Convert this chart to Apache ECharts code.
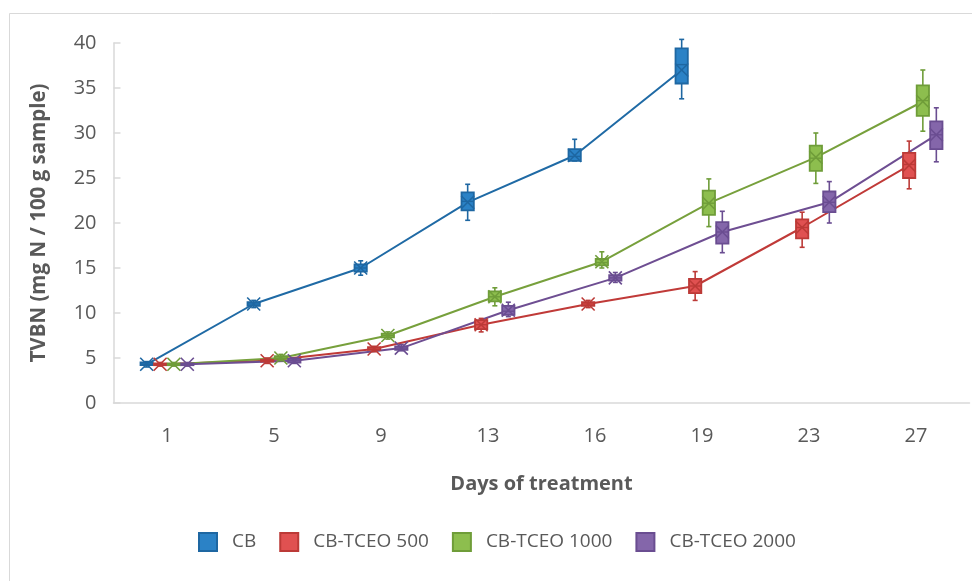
<!DOCTYPE html>
<html>
<head>
<meta charset="utf-8">
<script src="https://cdn.jsdelivr.net/npm/echarts@6/dist/echarts.min.js"></script>
<style>
  html, body { margin: 0; padding: 0; background: #ffffff; }
  #chart { width: 972px; height: 581px; }
</style>
</head>
<body>
<div id="chart"></div>
<script>
// ---- Data ----
const days = ['1', '5', '9', '13', '16', '19', '23', '27'];
const seriesNames = ['CB', 'CB-TCEO 500', 'CB-TCEO 1000', 'CB-TCEO 2000'];

// [min, Q1, median, Q3, max] per day
const cbBox = [
  [4.0, 4.2, 4.3, 4.5, 4.6],
  [10.6, 10.8, 11.0, 11.2, 11.4],
  [14.2, 14.6, 15.0, 15.4, 15.8],
  [20.3, 21.4, 22.4, 23.4, 24.3],
  [26.9, 26.9, 27.4, 28.2, 29.3],
  [33.8, 35.5, 37.6, 39.4, 40.4]
];
const cbMean = [4.3, 11.0, 15.0, 22.3, 27.5, 37.0];

const tceo500Box = [
  [4.1, 4.2, 4.3, 4.4, 4.5],
  [4.4, 4.6, 4.7, 4.8, 5.0],
  [5.7, 5.9, 6.0, 6.2, 6.3],
  [7.9, 8.2, 8.7, 9.2, 9.4],
  [10.6, 10.8, 11.0, 11.2, 11.4],
  [11.4, 12.2, 13.0, 13.8, 14.6],
  [17.3, 18.3, 19.5, 20.4, 21.2],
  [23.8, 25.0, 26.5, 27.8, 29.1]
];
const tceo500Mean = [4.3, 4.7, 6.0, 8.7, 11.0, 13.0, 19.5, 26.4];

const tceo1000Box = [
  [4.1, 4.2, 4.3, 4.4, 4.5],
  [4.7, 4.9, 5.0, 5.2, 5.4],
  [7.1, 7.3, 7.5, 7.7, 7.9],
  [10.8, 11.3, 11.8, 12.4, 12.8],
  [15.0, 15.3, 15.6, 16.0, 16.8],
  [19.6, 20.9, 22.2, 23.6, 24.9],
  [24.4, 25.8, 27.2, 28.6, 30.0],
  [30.2, 31.9, 33.6, 35.3, 37.0]
];
const tceo1000Mean = [4.3, 5.0, 7.5, 11.8, 15.7, 22.2, 27.3, 33.5];

const tceo2000Box = [
  [4.1, 4.2, 4.3, 4.4, 4.5],
  [4.4, 4.5, 4.7, 4.9, 5.0],
  [5.8, 5.9, 6.1, 6.3, 6.5],
  [9.6, 9.8, 10.2, 10.8, 11.2],
  [13.4, 13.6, 13.9, 14.2, 14.5],
  [16.7, 17.7, 19.0, 20.1, 21.3],
  [20.0, 21.2, 22.3, 23.5, 24.6],
  [26.8, 28.2, 29.8, 31.3, 32.8]
];
const tceo2000Mean = [4.3, 4.7, 6.1, 10.3, 13.9, 19.0, 22.3, 29.8];

const yTicks = [0, 5, 10, 15, 20, 25, 30, 35, 40];

// ---- Styling ----
const fills   = ['#2B82C6', '#E05151', '#8DBE4E', '#8466AA'];
const borders = ['#1E67A2', '#BC3A37', '#6F9D39', '#6A4D91'];
const lines   = ['#1F6AA5', '#C03A38', '#77A03C', '#6E4E92'];
const slotOffsets = [-0.19, -0.064, 0.064, 0.19]; // fraction of a category band
const BOX_W = 0.115;
const FONT = 'Open Sans';
const TXT = '#595959';

const allBoxes = [cbBox, tceo500Box, tceo1000Box, tceo2000Box];
const allMeans = [cbMean, tceo500Mean, tceo1000Mean, tceo2000Mean];

function renderBox(params, api) {
  const s = params.seriesIndex % 4;
  const x = api.value(0);
  const pLo = api.coord([x, api.value(1)]);
  const pQ1 = api.coord([x, api.value(2)]);
  const pMed = api.coord([x, api.value(3)]);
  const pQ3 = api.coord([x, api.value(4)]);
  const pHi = api.coord([x, api.value(5)]);
  const pMean = api.coord([x, api.value(6)]);
  const w = api.size([BOX_W, 0])[0];
  const cx = pMed[0];
  const cap = 2.5;
  const bc = borders[s];
  const lineStyle = { stroke: bc, lineWidth: 1.6 };
  const m = 6.5;
  return {
    type: 'group',
    children: [
      { type: 'line', shape: { x1: cx, y1: pHi[1], x2: cx, y2: pQ3[1] }, style: lineStyle },
      { type: 'line', shape: { x1: cx, y1: pQ1[1], x2: cx, y2: pLo[1] }, style: lineStyle },
      { type: 'line', shape: { x1: cx - cap, y1: pHi[1], x2: cx + cap, y2: pHi[1] }, style: lineStyle },
      { type: 'line', shape: { x1: cx - cap, y1: pLo[1], x2: cx + cap, y2: pLo[1] }, style: lineStyle },
      { type: 'rect', shape: { x: cx - w / 2, y: pQ3[1], width: w, height: Math.max(pQ1[1] - pQ3[1], 1) },
        style: { fill: fills[s], stroke: bc, lineWidth: 1.8 } },
      { type: 'line', shape: { x1: cx - w / 2, y1: pMed[1], x2: cx + w / 2, y2: pMed[1] }, style: { stroke: bc, lineWidth: 1.4 } },
      { type: 'line', shape: { x1: cx - m, y1: pMean[1] - m, x2: cx + m, y2: pMean[1] + m }, style: { stroke: bc, lineWidth: 1.6 } },
      { type: 'line', shape: { x1: cx - m, y1: pMean[1] + m, x2: cx + m, y2: pMean[1] - m }, style: { stroke: bc, lineWidth: 1.6 } }
    ]
  };
}

const series = [];
// mean lines (drawn beneath boxes)
allMeans.forEach(function (means, s) {
  series.push({
    name: seriesNames[s],
    type: 'line',
    xAxisIndex: 1,
    yAxisIndex: 0,
    symbol: 'none',
    z: 2,
    silent: true,
    lineStyle: { color: lines[s], width: 2 },
    itemStyle: { color: fills[s] },
    data: means.map(function (v, i) { return [i + 0.5 + slotOffsets[s], v]; })
  });
});
// boxes
allBoxes.forEach(function (boxes, s) {
  series.push({
    name: seriesNames[s],
    type: 'custom',
    xAxisIndex: 1,
    yAxisIndex: 0,
    z: 3,
    clip: false,
    renderItem: renderBox,
    itemStyle: { color: fills[s], borderColor: borders[s] },
    encode: { x: 0, y: [1, 2, 3, 4, 5, 6] },
    data: boxes.map(function (b, i) {
      return [i + 0.5 + slotOffsets[s]].concat(b).concat([allMeans[s][i]]);
    })
  });
});

const chart = echarts.init(document.getElementById('chart'), null, { renderer: 'canvas' });
chart.setOption({
  animation: false,
  backgroundColor: '#ffffff',
  graphic: [{
    type: 'rect',
    shape: { x: 9.5, y: 13.5, width: 1000, height: 600 },
    style: { fill: 'none', stroke: '#d9d9d9', lineWidth: 1 },
    silent: true,
    z: -1
  }],
  grid: { left: 113.5, right: 2.5, top: 43, bottom: 178 },
  legend: {
    left: 198,
    top: 532,
    padding: 0,
    itemWidth: 18,
    itemHeight: 18,
    itemGap: 23,
    textStyle: { fontFamily: FONT, fontSize: 19, color: TXT, padding: [0, 0, 0, 10] },
    data: seriesNames.map(function (n, s) {
      return { name: n, icon: 'rect', itemStyle: { color: fills[s], borderColor: borders[s], borderWidth: 2 } };
    })
  },
  xAxis: [{
    type: 'category',
    data: days,
    boundaryGap: true,
    name: 'Days of treatment',
    nameLocation: 'middle',
    nameGap: 71,
    nameTextStyle: { fontFamily: FONT, fontSize: 20, fontWeight: 'bold', color: TXT },
    axisLine: { lineStyle: { color: '#d9d9d9', width: 1.5 } },
    axisTick: { inside: true, length: 6, lineStyle: { color: '#d9d9d9', width: 1.5 } },
    axisLabel: { fontFamily: FONT, fontSize: 20, color: TXT, margin: 23 },
    splitLine: { show: false }
  }, {
    type: 'value',
    min: 0,
    max: 8,
    show: false,
    splitLine: { show: false }
  }],
  yAxis: [{
    type: 'value',
    min: yTicks[0],
    max: yTicks[yTicks.length - 1],
    interval: 5,
    name: 'TVBN (mg N / 100 g sample)',
    nameLocation: 'middle',
    nameGap: 64,
    nameRotate: 90,
    nameTextStyle: { fontFamily: FONT, fontSize: 20.5, fontWeight: 'bold', color: TXT },
    axisLine: { show: true, lineStyle: { color: '#d9d9d9', width: 1.5 } },
    axisTick: { show: true, inside: true, length: 7, lineStyle: { color: '#d9d9d9', width: 1.5 } },
    axisLabel: { fontFamily: FONT, fontSize: 20, color: TXT, margin: 17 },
    splitLine: { show: false }
  }],
  series: series
});
</script>
</body>
</html>
